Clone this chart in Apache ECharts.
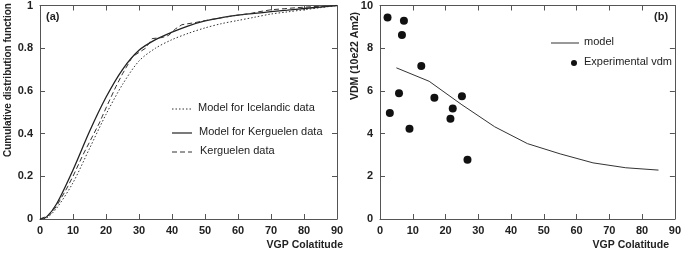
<!DOCTYPE html>
<html>
<head>
<meta charset="utf-8">
<script src="https://cdn.jsdelivr.net/npm/echarts@6/dist/echarts.min.js"></script>
<style>
  html, body { margin: 0; padding: 0; background: #fff; }
  #chart { width: 684px; height: 255px; }
</style>
</head>
<body>
<div id="chart"></div>
<script>
// panel (a): cumulative distribution functions
const colat = [0, 2, 5, 10, 15, 20, 25, 30, 35, 40, 45, 50, 55, 60, 65, 70, 75, 80, 85, 90]
const modelIceland = [0, 0.005, 0.05, 0.17, 0.33, 0.49, 0.63, 0.74, 0.8, 0.84, 0.87, 0.895, 0.915, 0.93, 0.945, 0.96, 0.97, 0.98, 0.99, 1]
const modelKerguelen = [0, 0.01, 0.07, 0.23, 0.41, 0.57, 0.7, 0.79, 0.84, 0.875, 0.905, 0.928, 0.943, 0.955, 0.963, 0.971, 0.978, 0.986, 0.993, 1]
const dataColat = [0, 3, 5, 8, 10, 13, 15, 18, 20, 23, 25, 28, 30, 32, 34, 37, 39, 41, 43, 47, 52, 56, 60, 63, 66, 70, 74, 78, 83, 90]
const dataKerguelen = [0, 0.02, 0.06, 0.14, 0.2, 0.3, 0.36, 0.45, 0.52, 0.62, 0.68, 0.76, 0.78, 0.8, 0.845, 0.85, 0.86, 0.89, 0.91, 0.92, 0.935, 0.945, 0.955, 0.96, 0.97, 0.98, 0.985, 0.99, 0.995, 1]

// panel (b): virtual dipole moment
const vdmModelColat = [5, 15, 25, 35, 45, 55, 65, 75, 85]
const vdmModel = [7.08, 6.45, 5.35, 4.32, 3.53, 3.05, 2.63, 2.4, 2.29]
const vdmExpColat = [2.3, 7.3, 6.7, 12.6, 5.8, 3.0, 9.0, 16.6, 25.0, 22.2, 21.5, 26.7]
const vdmExp = [9.44, 9.28, 8.62, 7.17, 5.89, 4.96, 4.23, 5.68, 5.75, 5.18, 4.70, 2.77]

const font = 'Arial, "Liberation Sans", sans-serif'
const ink = '#222'
const dotted = [1.5, 2]
const dashed = [5, 3]

const pair = (xs, ys) => xs.map((x, i) => [x, ys[i]])

function axisPair(gridIndex, max, interval) {
  const base = {
    gridIndex: gridIndex,
    type: 'value',
    min: 0,
    max: max,
    interval: interval,
    splitLine: { show: false },
    axisLine: { show: true, onZero: false, lineStyle: { color: '#555', width: 1 } },
    axisTick: { show: true, inside: true, length: 5, lineStyle: { color: '#555' } }
  }
  return [
    Object.assign({}, base, {
      position: 'bottom',
      axisLabel: { color: ink, fontFamily: font, fontSize: 11, fontWeight: 'bold', margin: 6 }
    }),
    Object.assign({}, base, { position: 'top', axisLabel: { show: false } })
  ]
}

function yPair(gridIndex, max, interval) {
  const base = {
    gridIndex: gridIndex,
    type: 'value',
    min: 0,
    max: max,
    interval: interval,
    splitLine: { show: false },
    axisLine: { show: true, onZero: false, lineStyle: { color: '#555', width: 1 } },
    axisTick: { show: true, inside: true, length: 5, lineStyle: { color: '#555' } }
  }
  return [
    Object.assign({}, base, {
      position: 'left',
      axisLabel: { color: ink, fontFamily: font, fontSize: 11, fontWeight: 'bold', margin: 7 }
    }),
    Object.assign({}, base, { position: 'right', axisLabel: { show: false } })
  ]
}

// hand-drawn legend entries (line sample + label)
function legendLine(x1, x2, y, dash, width, label, tx) {
  return [
    {
      type: 'line',
      shape: { x1: x1, y1: y, x2: x2, y2: y },
      style: { stroke: '#333', lineWidth: width, lineDash: dash }
    },
    {
      type: 'text', x: tx, y: y - 1,
      style: { text: label, fill: ink, font: '11px ' + font, verticalAlign: 'middle' }
    }
  ]
}

const chart = echarts.init(document.getElementById('chart'), null, { renderer: 'canvas' })

chart.setOption({
  backgroundColor: '#fff',
  animation: false,
  grid: [
    { left: 40, right: 347, top: 5, bottom: 36 },
    { left: 380, right: 6, top: 5, bottom: 36 }
  ],
  xAxis: [].concat(axisPair(0, 90, 10), axisPair(1, 90, 10)),
  yAxis: [].concat(yPair(0, 1, 0.2), yPair(1, 10, 2)),
  series: [
    {
      name: 'Model for Icelandic data',
      type: 'line',
      xAxisIndex: 0, yAxisIndex: 0,
      data: pair(colat, modelIceland),
      smooth: 0.3,
      symbol: 'none',
      lineStyle: { color: '#333', width: 1, type: dotted }
    },
    {
      name: 'Model for Kerguelen data',
      type: 'line',
      xAxisIndex: 0, yAxisIndex: 0,
      data: pair(colat, modelKerguelen),
      smooth: 0.3,
      symbol: 'none',
      lineStyle: { color: '#222', width: 1.3 }
    },
    {
      name: 'Kerguelen data',
      type: 'line',
      xAxisIndex: 0, yAxisIndex: 0,
      data: pair(dataColat, dataKerguelen),
      symbol: 'none',
      lineStyle: { color: '#333', width: 1, type: dashed }
    },
    {
      name: 'model',
      type: 'line',
      xAxisIndex: 2, yAxisIndex: 2,
      data: pair(vdmModelColat, vdmModel),
      symbol: 'none',
      lineStyle: { color: '#333', width: 1 }
    },
    {
      name: 'Experimental vdm',
      type: 'scatter',
      xAxisIndex: 2, yAxisIndex: 2,
      data: pair(vdmExpColat, vdmExp),
      symbol: 'circle',
      symbolSize: 8,
      itemStyle: { color: '#111', opacity: 1 }
    }
  ],
  graphic: [].concat(
    legendLine(172, 192, 109, dotted, 1, 'Model for Icelandic data', 198),
    legendLine(172, 192, 133, null, 1.3, 'Model for Kerguelen data', 199),
    legendLine(172, 192, 152, dashed, 1, 'Kerguelen data', 200),
    legendLine(551, 579, 43, null, 1, 'model', 584),
    [
      {
        type: 'circle',
        shape: { cx: 574, cy: 63, r: 3 },
        style: { fill: '#111' }
      },
      {
        type: 'text', x: 584, y: 62,
        style: { text: 'Experimental vdm', fill: ink, font: '11px ' + font, verticalAlign: 'middle' }
      },
      {
        type: 'text', left: 46, top: 11,
        style: { text: '(a)', fill: ink, font: 'bold 11px ' + font }
      },
      {
        type: 'text', left: 654, top: 11,
        style: { text: '(b)', fill: ink, font: 'bold 11px ' + font }
      },
      {
        type: 'text', x: 8, y: 157, rotation: Math.PI / 2,
        style: { text: 'Cumulative distribution function', fill: ink, font: 'bold 10px ' + font, align: 'left', verticalAlign: 'middle' }
      },
      {
        type: 'text', x: 355, y: 100, rotation: Math.PI / 2,
        style: { text: 'VDM (10e22 Am2)', fill: ink, font: 'bold 10.5px ' + font, align: 'left', verticalAlign: 'middle' }
      },
      {
        type: 'text', x: 343, y: 245,
        style: { text: 'VGP Colatitude', fill: ink, font: 'bold 10.5px ' + font, align: 'right', verticalAlign: 'middle' }
      },
      {
        type: 'text', x: 669, y: 245,
        style: { text: 'VGP Colatitude', fill: ink, font: 'bold 10.5px ' + font, align: 'right', verticalAlign: 'middle' }
      }
    ]
  )
})
</script>
</body>
</html>
